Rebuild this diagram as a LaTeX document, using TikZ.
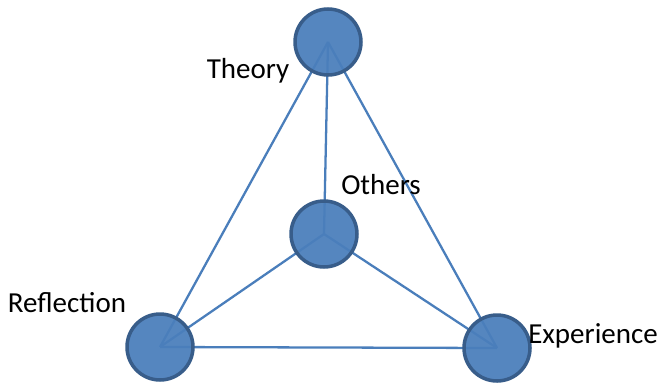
\documentclass[tikz,border=0pt]{standalone}
\usepackage{fontspec}
\setmainfont{Carlito}
\usetikzlibrary{backgrounds}
\definecolor{nodeblue}{HTML}{4A7EBB}
\definecolor{nodeedge}{HTML}{385D8A}
\tikzset{
  vertex/.style={circle, draw=nodeedge, line width=2pt, fill=nodeblue, fill opacity=0.94, minimum size=1.32cm, inner sep=0pt},
  edge/.style={draw=nodeblue, line width=1.3pt},
  lbl/.style={font=\fontsize{16.5}{19}\selectfont, inner sep=0pt}
}
\begin{document}
\begin{tikzpicture}[x=0.02cm, y=-0.02cm]
	\useasboundingbox (0,0) rectangle (661,382);
	\node[vertex] (theory) at (328,42) {};
	\node[vertex] (others) at (324,234) {};
	\node[vertex] (reflection) at (160,347) {};
	\node[vertex] (experience) at (497,348) {};

	\begin{scope}[on background layer]
		\draw[edge] (theory.center) -- (reflection.center);
		\draw[edge] (theory.center) -- (experience.center);
		\draw[edge] (theory.center) -- (others.center);
		\draw[edge] (others.center) -- (reflection.center);
		\draw[edge] (others.center) -- (experience.center);
		\draw[edge] (reflection.center) -- (experience.center);
	\end{scope}

	\node[lbl] (theorylbl) at (248,71) {Theory};
	\node[lbl] (otherslbl) at (381,185) {Others};
	\node[lbl] (reflectionlbl) at (67,303) {Reflection};
	\node[lbl] (experiencelbl) at (593,336) {Experience};
\end{tikzpicture}
\end{document}
